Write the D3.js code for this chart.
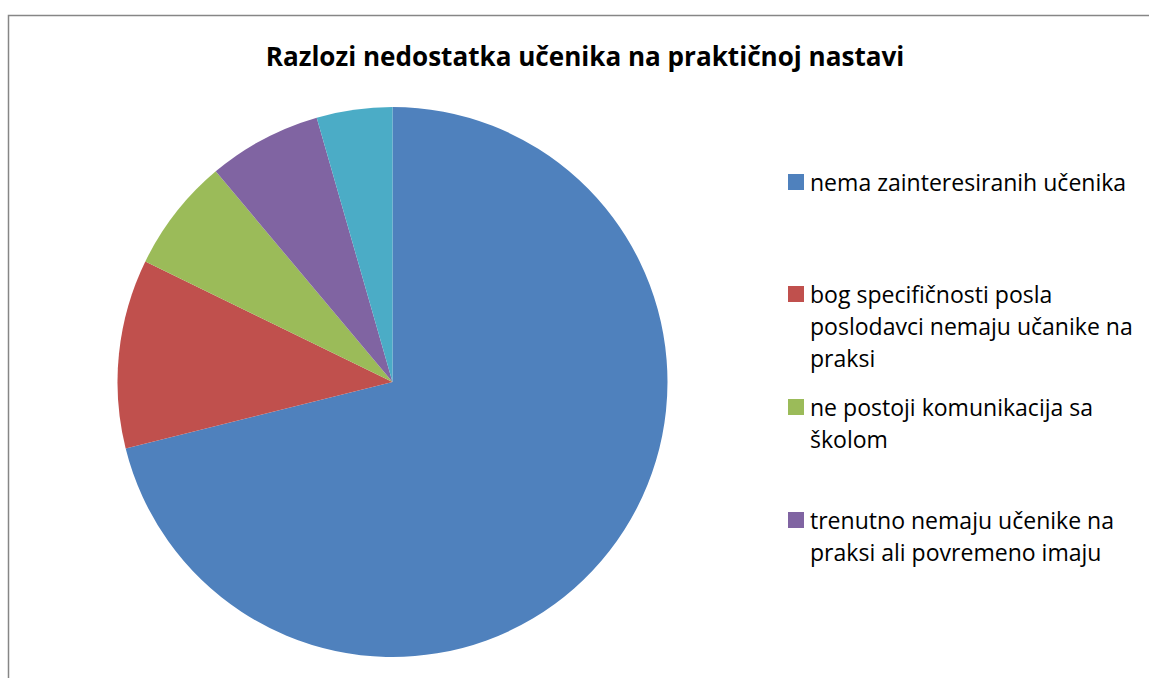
<!DOCTYPE html>
<html>
<head>
<meta charset="utf-8">
<script src="https://cdn.jsdelivr.net/npm/d3@7"></script>
<style>
  html, body { margin: 0; padding: 0; background: #fff; overflow: hidden; }
  svg { display: block; }
</style>
</head>
<body>
<svg id="chart" width="1149" height="678"></svg>
<script>
// podaci s grafikona (broj odgovora)
const categories = [
  'nema zainteresiranih učenika',
  'bog specifičnosti posla poslodavci nemaju učanike na praksi',
  'ne postoji komunikacija sa školom',
  'trenutno nemaju učenike na praksi ali povremeno imaju',
  'ostalo'
];
const values = [32, 5, 3, 3, 2];
// legenda je u originalu odsječena nakon 4. stavke
const legendLines = [
  ['nema zainteresiranih učenika'],
  ['bog specifičnosti posla', 'poslodavci nemaju učanike na', 'praksi'],
  ['ne postoji komunikacija sa', 'školom'],
  ['trenutno nemaju učenike na', 'praksi ali povremeno imaju']
];
const colors = ['#4F81BD', '#C0504D', '#9BBB59', '#8064A2', '#4BACC6'];
const title = 'Razlozi nedostatka učenika na praktičnoj nastavi';

(function () {
  const svg = d3.select('#chart');
  const FONT = "'Open Sans', 'Noto Sans', sans-serif";

  // okvir grafikona (desni i donji rub izlaze izvan slike)
  svg.append('rect')
    .attr('x', 8.5).attr('y', 15.5)
    .attr('width', 1200).attr('height', 800)
    .attr('fill', '#fff')
    .attr('stroke', '#868686').attr('stroke-width', 1.5);

  // naslov - veličinu fonta prilagodimo širini iz originala
  const t = svg.append('text')
    .attr('x', 585).attr('y', 66)
    .attr('text-anchor', 'middle')
    .attr('font-family', FONT)
    .attr('font-weight', 700)
    .attr('font-size', 24)
    .attr('fill', '#000')
    .text(title);
  const tw = t.node().getComputedTextLength();
  t.attr('font-size', 24 * 639 / tw);

  // pita
  const cx = 392.5, cy = 382, r = 275;
  const pie = d3.pie().sort(null).value(d => d);
  const arc = d3.arc().innerRadius(0).outerRadius(r);
  const g = svg.append('g').attr('transform', `translate(${cx},${cy})`);
  g.selectAll('path')
    .data(pie(values))
    .join('path')
    .attr('d', arc)
    .attr('fill', (d, i) => colors[i]);

  // legenda
  const lx = 788, firstY = [182, 294, 407, 520], lineH = 32;
  const lg = svg.append('g');
  // mjerimo najširi red da uskladimo font s originalom
  const probe = lg.append('text').attr('font-family', FONT).attr('font-size', 20)
    .text('poslodavci nemaju učanike na');
  const fs = 20 * 323 / probe.node().getComputedTextLength();
  probe.remove();

  legendLines.forEach((lines, i) => {
    const y0 = firstY[i];
    lg.append('rect')
      .attr('x', lx).attr('y', y0 - 8)
      .attr('width', 16).attr('height', 16)
      .attr('fill', colors[i]);
    const txt = lg.append('text')
      .attr('font-family', FONT)
      .attr('font-size', fs)
      .attr('fill', '#000');
    lines.forEach((ln, j) => {
      txt.append('tspan')
        .attr('x', lx + 22)
        .attr('y', y0 + j * lineH)
        .attr('dominant-baseline', 'central')
        .text(ln);
    });
  });
})();
</script>
</body>
</html>
